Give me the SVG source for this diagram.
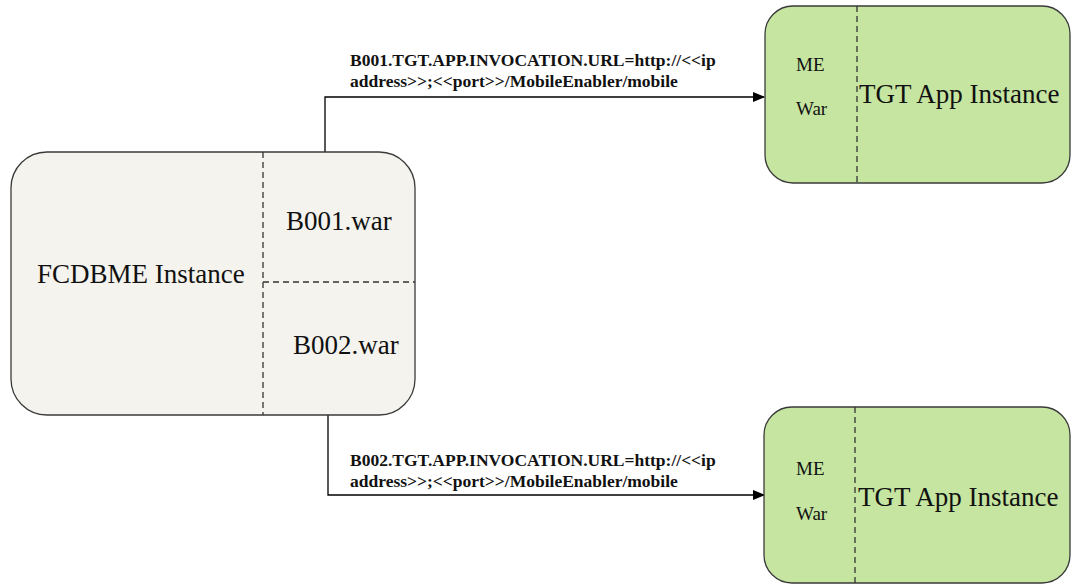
<svg xmlns="http://www.w3.org/2000/svg" width="1072" height="586" viewBox="0 0 1072 586">
<defs>
<style>
.box{stroke:#3a3a3a;stroke-width:1.3}
.src{fill:#f4f3ee}
.tgt{fill:#c5e5a0}
.dash{stroke:#333;stroke-width:1.3;stroke-dasharray:6,4;fill:none}
.conn{stroke:#000;stroke-width:1.3;fill:none}
.t{font-family:'Liberation Serif','Times New Roman','DejaVu Serif',serif;fill:#111}
.big{font-size:27px}
.sm{font-size:19px}
.lbl{font-family:'Liberation Serif','Times New Roman','DejaVu Serif',serif;font-weight:bold;font-size:17.5px;fill:#111}
</style>
<marker id="arr" markerWidth="12" markerHeight="10" refX="11" refY="5" orient="auto" markerUnits="userSpaceOnUse">
<path d="M0,0 L12,5 L0,10 Z" fill="#000"/>
</marker>
</defs>
<rect width="1072" height="586" fill="#fff"/>
<g id="connectors">
<path class="conn" d="M325,152 V97 H764" marker-end="url(#arr)"/>
<path class="conn" d="M328,415 V495 H764" marker-end="url(#arr)"/>
<text class="lbl" x="350" y="66">B001.TGT.APP.INVOCATION.URL=http://&lt;&lt;ip</text>
<text class="lbl" x="350" y="87">address&gt;&gt;;&lt;&lt;port&gt;&gt;/MobileEnabler/mobile</text>
<text class="lbl" x="350" y="466">B002.TGT.APP.INVOCATION.URL=http://&lt;&lt;ip</text>
<text class="lbl" x="350" y="487">address&gt;&gt;;&lt;&lt;port&gt;&gt;/MobileEnabler/mobile</text>
</g>
<g id="fcdbme">
<rect class="box src" x="11" y="152" width="404" height="263" rx="36" ry="36"/>
<line class="dash" x1="263" y1="152" x2="263" y2="415"/>
<line class="dash" x1="263" y1="282" x2="415" y2="282"/>
<text class="t big" x="37" y="283">FCDBME Instance</text>
<text class="t big" x="286" y="230">B001.war</text>
<text class="t big" x="293" y="354">B002.war</text>
</g>
<g id="tgt1">
<rect class="box tgt" x="765" y="6" width="305" height="177" rx="28" ry="28"/>
<line class="dash" x1="857" y1="6" x2="857" y2="183"/>
<text class="t sm" x="796" y="71">ME</text>
<text class="t sm" x="796" y="115">War</text>
<text class="t big" x="859" y="103">TGT App Instance</text>
</g>
<g id="tgt2">
<rect class="box tgt" x="764" y="407" width="306" height="176" rx="28" ry="28"/>
<line class="dash" x1="855" y1="407" x2="855" y2="583"/>
<text class="t sm" x="796" y="475">ME</text>
<text class="t sm" x="796" y="520">War</text>
<text class="t big" x="858" y="506">TGT App Instance</text>
</g>
</svg>
